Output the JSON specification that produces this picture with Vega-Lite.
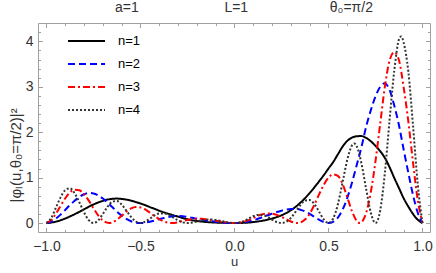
{
  "$schema": "https://vega.github.io/schema/vega-lite/v6.json",
  "width": 392,
  "height": 209,
  "autosize": {"type": "none"},
  "padding": {"left": 38, "top": 23, "right": 6, "bottom": 41},
  "background": "white",
  "title": {
    "text": "a=1\u00a0\u00a0\u00a0\u00a0\u00a0\u00a0\u00a0\u00a0\u00a0\u00a0\u00a0\u00a0\u00a0\u00a0\u00a0\u00a0\u00a0\u00a0\u00a0\u00a0\u00a0\u00a0L=1\u00a0\u00a0\u00a0\u00a0\u00a0\u00a0\u00a0\u00a0\u00a0\u00a0\u00a0\u00a0\u00a0\u00a0\u00a0\u00a0\u00a0\u00a0\u00a0\u00a0\u00a0θ₀=π/2",
    "anchor": "middle",
    "frame": "group",
    "font": "Liberation Sans",
    "fontSize": 14,
    "fontWeight": "normal",
    "color": "#333333",
    "offset": 8,
    "dx": 10
  },
  "data": {
    "values": [
      {"n":"n=1","u":-1,"v":0},{"n":"n=1","u":-0.975,"v":0.009},{"n":"n=1","u":-0.95,"v":0.031},{"n":"n=1","u":-0.925,"v":0.061},{"n":"n=1","u":-0.9,"v":0.099},{"n":"n=1","u":-0.875,"v":0.145},{"n":"n=1","u":-0.85,"v":0.194},{"n":"n=1","u":-0.825,"v":0.247},{"n":"n=1","u":-0.8,"v":0.302},{"n":"n=1","u":-0.775,"v":0.359},{"n":"n=1","u":-0.75,"v":0.408},{"n":"n=1","u":-0.725,"v":0.451},{"n":"n=1","u":-0.7,"v":0.488},{"n":"n=1","u":-0.675,"v":0.516},{"n":"n=1","u":-0.65,"v":0.532},{"n":"n=1","u":-0.625,"v":0.538},{"n":"n=1","u":-0.6,"v":0.529},{"n":"n=1","u":-0.575,"v":0.515},{"n":"n=1","u":-0.55,"v":0.493},{"n":"n=1","u":-0.525,"v":0.462},{"n":"n=1","u":-0.5,"v":0.43},{"n":"n=1","u":-0.475,"v":0.393},{"n":"n=1","u":-0.45,"v":0.351},{"n":"n=1","u":-0.425,"v":0.312},{"n":"n=1","u":-0.4,"v":0.271},{"n":"n=1","u":-0.375,"v":0.235},{"n":"n=1","u":-0.35,"v":0.202},{"n":"n=1","u":-0.325,"v":0.171},{"n":"n=1","u":-0.3,"v":0.141},{"n":"n=1","u":-0.275,"v":0.11},{"n":"n=1","u":-0.25,"v":0.083},{"n":"n=1","u":-0.225,"v":0.062},{"n":"n=1","u":-0.2,"v":0.045},{"n":"n=1","u":-0.175,"v":0.032},{"n":"n=1","u":-0.15,"v":0.022},{"n":"n=1","u":-0.125,"v":0.015},{"n":"n=1","u":-0.1,"v":0.009},{"n":"n=1","u":-0.075,"v":0.005},{"n":"n=1","u":-0.05,"v":0.003},{"n":"n=1","u":-0.025,"v":0.001},{"n":"n=1","u":0,"v":0},{"n":"n=1","u":0.025,"v":0.001},{"n":"n=1","u":0.05,"v":0.004},{"n":"n=1","u":0.075,"v":0.01},{"n":"n=1","u":0.1,"v":0.021},{"n":"n=1","u":0.125,"v":0.034},{"n":"n=1","u":0.15,"v":0.052},{"n":"n=1","u":0.175,"v":0.073},{"n":"n=1","u":0.2,"v":0.099},{"n":"n=1","u":0.225,"v":0.131},{"n":"n=1","u":0.25,"v":0.17},{"n":"n=1","u":0.275,"v":0.22},{"n":"n=1","u":0.3,"v":0.281},{"n":"n=1","u":0.325,"v":0.356},{"n":"n=1","u":0.35,"v":0.445},{"n":"n=1","u":0.375,"v":0.546},{"n":"n=1","u":0.4,"v":0.66},{"n":"n=1","u":0.425,"v":0.785},{"n":"n=1","u":0.45,"v":0.917},{"n":"n=1","u":0.475,"v":1.053},{"n":"n=1","u":0.5,"v":1.2},{"n":"n=1","u":0.525,"v":1.342},{"n":"n=1","u":0.55,"v":1.512},{"n":"n=1","u":0.575,"v":1.683},{"n":"n=1","u":0.6,"v":1.809},{"n":"n=1","u":0.625,"v":1.88},{"n":"n=1","u":0.65,"v":1.91},{"n":"n=1","u":0.675,"v":1.915},{"n":"n=1","u":0.7,"v":1.875},{"n":"n=1","u":0.725,"v":1.8},{"n":"n=1","u":0.75,"v":1.7},{"n":"n=1","u":0.775,"v":1.582},{"n":"n=1","u":0.8,"v":1.434},{"n":"n=1","u":0.825,"v":1.229},{"n":"n=1","u":0.85,"v":0.993},{"n":"n=1","u":0.875,"v":0.769},{"n":"n=1","u":0.9,"v":0.544},{"n":"n=1","u":0.925,"v":0.36},{"n":"n=1","u":0.95,"v":0.196},{"n":"n=1","u":0.975,"v":0.071},{"n":"n=1","u":1,"v":0},

      {"n":"n=2","u":-1,"v":0},{"n":"n=2","u":-0.975,"v":0.028},{"n":"n=2","u":-0.95,"v":0.096},{"n":"n=2","u":-0.925,"v":0.185},{"n":"n=2","u":-0.9,"v":0.288},{"n":"n=2","u":-0.875,"v":0.396},{"n":"n=2","u":-0.85,"v":0.492},{"n":"n=2","u":-0.825,"v":0.575},{"n":"n=2","u":-0.8,"v":0.633},{"n":"n=2","u":-0.775,"v":0.663},{"n":"n=2","u":-0.75,"v":0.652},{"n":"n=2","u":-0.725,"v":0.609},{"n":"n=2","u":-0.7,"v":0.539},{"n":"n=2","u":-0.675,"v":0.451},{"n":"n=2","u":-0.65,"v":0.351},{"n":"n=2","u":-0.625,"v":0.252},{"n":"n=2","u":-0.6,"v":0.162},{"n":"n=2","u":-0.575,"v":0.09},{"n":"n=2","u":-0.55,"v":0.039},{"n":"n=2","u":-0.525,"v":0.009},{"n":"n=2","u":-0.5,"v":0},{"n":"n=2","u":-0.475,"v":0.008},{"n":"n=2","u":-0.45,"v":0.028},{"n":"n=2","u":-0.425,"v":0.054},{"n":"n=2","u":-0.4,"v":0.083},{"n":"n=2","u":-0.375,"v":0.11},{"n":"n=2","u":-0.35,"v":0.134},{"n":"n=2","u":-0.325,"v":0.149},{"n":"n=2","u":-0.3,"v":0.156},{"n":"n=2","u":-0.275,"v":0.148},{"n":"n=2","u":-0.25,"v":0.132},{"n":"n=2","u":-0.225,"v":0.115},{"n":"n=2","u":-0.2,"v":0.094},{"n":"n=2","u":-0.175,"v":0.074},{"n":"n=2","u":-0.15,"v":0.055},{"n":"n=2","u":-0.125,"v":0.04},{"n":"n=2","u":-0.1,"v":0.026},{"n":"n=2","u":-0.075,"v":0.016},{"n":"n=2","u":-0.05,"v":0.008},{"n":"n=2","u":-0.025,"v":0.002},{"n":"n=2","u":0,"v":0},{"n":"n=2","u":0.025,"v":0.003},{"n":"n=2","u":0.05,"v":0.013},{"n":"n=2","u":0.075,"v":0.031},{"n":"n=2","u":0.1,"v":0.059},{"n":"n=2","u":0.125,"v":0.093},{"n":"n=2","u":0.15,"v":0.131},{"n":"n=2","u":0.175,"v":0.17},{"n":"n=2","u":0.2,"v":0.206},{"n":"n=2","u":0.225,"v":0.242},{"n":"n=2","u":0.25,"v":0.272},{"n":"n=2","u":0.275,"v":0.297},{"n":"n=2","u":0.3,"v":0.311},{"n":"n=2","u":0.325,"v":0.311},{"n":"n=2","u":0.35,"v":0.293},{"n":"n=2","u":0.375,"v":0.256},{"n":"n=2","u":0.4,"v":0.202},{"n":"n=2","u":0.425,"v":0.137},{"n":"n=2","u":0.45,"v":0.072},{"n":"n=2","u":0.475,"v":0.021},{"n":"n=2","u":0.5,"v":0},{"n":"n=2","u":0.525,"v":0.027},{"n":"n=2","u":0.55,"v":0.118},{"n":"n=2","u":0.575,"v":0.294},{"n":"n=2","u":0.6,"v":0.553},{"n":"n=2","u":0.625,"v":0.888},{"n":"n=2","u":0.65,"v":1.272},{"n":"n=2","u":0.675,"v":1.664},{"n":"n=2","u":0.7,"v":2.114},{"n":"n=2","u":0.725,"v":2.48},{"n":"n=2","u":0.75,"v":2.788},{"n":"n=2","u":0.775,"v":3.0},{"n":"n=2","u":0.8,"v":3.078},{"n":"n=2","u":0.825,"v":2.93},{"n":"n=2","u":0.85,"v":2.587},{"n":"n=2","u":0.875,"v":2.152},{"n":"n=2","u":0.9,"v":1.615},{"n":"n=2","u":0.925,"v":1.1},{"n":"n=2","u":0.95,"v":0.611},{"n":"n=2","u":0.975,"v":0.225},{"n":"n=2","u":1,"v":0},

      {"n":"n=3","u":-1,"v":0},{"n":"n=3","u":-0.975,"v":0.063},{"n":"n=3","u":-0.95,"v":0.206},{"n":"n=3","u":-0.925,"v":0.378},{"n":"n=3","u":-0.9,"v":0.545},{"n":"n=3","u":-0.875,"v":0.676},{"n":"n=3","u":-0.85,"v":0.734},{"n":"n=3","u":-0.825,"v":0.72},{"n":"n=3","u":-0.8,"v":0.633},{"n":"n=3","u":-0.775,"v":0.494},{"n":"n=3","u":-0.75,"v":0.326},{"n":"n=3","u":-0.725,"v":0.17},{"n":"n=3","u":-0.7,"v":0.057},{"n":"n=3","u":-0.6667,"v":0},{"n":"n=3","u":-0.65,"v":0.013},{"n":"n=3","u":-0.625,"v":0.074},{"n":"n=3","u":-0.6,"v":0.162},{"n":"n=3","u":-0.575,"v":0.252},{"n":"n=3","u":-0.55,"v":0.321},{"n":"n=3","u":-0.525,"v":0.352},{"n":"n=3","u":-0.5,"v":0.344},{"n":"n=3","u":-0.475,"v":0.299},{"n":"n=3","u":-0.45,"v":0.229},{"n":"n=3","u":-0.425,"v":0.153},{"n":"n=3","u":-0.4,"v":0.083},{"n":"n=3","u":-0.375,"v":0.032},{"n":"n=3","u":-0.35,"v":0.005},{"n":"n=3","u":-0.3333,"v":0},{"n":"n=3","u":-0.3,"v":0.016},{"n":"n=3","u":-0.275,"v":0.042},{"n":"n=3","u":-0.25,"v":0.066},{"n":"n=3","u":-0.225,"v":0.086},{"n":"n=3","u":-0.2,"v":0.094},{"n":"n=3","u":-0.175,"v":0.093},{"n":"n=3","u":-0.15,"v":0.082},{"n":"n=3","u":-0.125,"v":0.068},{"n":"n=3","u":-0.1,"v":0.05},{"n":"n=3","u":-0.075,"v":0.033},{"n":"n=3","u":-0.05,"v":0.017},{"n":"n=3","u":-0.025,"v":0.005},{"n":"n=3","u":0,"v":0},{"n":"n=3","u":0.025,"v":0.007},{"n":"n=3","u":0.05,"v":0.028},{"n":"n=3","u":0.075,"v":0.064},{"n":"n=3","u":0.1,"v":0.113},{"n":"n=3","u":0.125,"v":0.159},{"n":"n=3","u":0.15,"v":0.195},{"n":"n=3","u":0.175,"v":0.212},{"n":"n=3","u":0.2,"v":0.206},{"n":"n=3","u":0.225,"v":0.18},{"n":"n=3","u":0.25,"v":0.136},{"n":"n=3","u":0.275,"v":0.083},{"n":"n=3","u":0.3,"v":0.033},{"n":"n=3","u":0.3333,"v":0},{"n":"n=3","u":0.35,"v":0.011},{"n":"n=3","u":0.375,"v":0.075},{"n":"n=3","u":0.4,"v":0.205},{"n":"n=3","u":0.425,"v":0.4},{"n":"n=3","u":0.45,"v":0.63},{"n":"n=3","u":0.475,"v":0.84},{"n":"n=3","u":0.5,"v":1.0},{"n":"n=3","u":0.525,"v":1.07},{"n":"n=3","u":0.55,"v":1.04},{"n":"n=3","u":0.575,"v":0.86},{"n":"n=3","u":0.6,"v":0.57},{"n":"n=3","u":0.625,"v":0.26},{"n":"n=3","u":0.65,"v":0.048},{"n":"n=3","u":0.6667,"v":0},{"n":"n=3","u":0.7,"v":0.218},{"n":"n=3","u":0.725,"v":0.677},{"n":"n=3","u":0.75,"v":1.36},{"n":"n=3","u":0.775,"v":2.181},{"n":"n=3","u":0.8,"v":3.003},{"n":"n=3","u":0.825,"v":3.578},{"n":"n=3","u":0.85,"v":3.762},{"n":"n=3","u":0.875,"v":3.585},{"n":"n=3","u":0.9,"v":2.985},{"n":"n=3","u":0.925,"v":2.227},{"n":"n=3","u":0.95,"v":1.319},{"n":"n=3","u":0.975,"v":0.501},{"n":"n=3","u":1,"v":0},

      {"n":"n=4","u":-1,"v":0},{"n":"n=4","u":-0.975,"v":0.107},{"n":"n=4","u":-0.95,"v":0.333},{"n":"n=4","u":-0.925,"v":0.564},{"n":"n=4","u":-0.9,"v":0.724},{"n":"n=4","u":-0.875,"v":0.762},{"n":"n=4","u":-0.85,"v":0.655},{"n":"n=4","u":-0.825,"v":0.456},{"n":"n=4","u":-0.8,"v":0.233},{"n":"n=4","u":-0.775,"v":0.063},{"n":"n=4","u":-0.75,"v":0},{"n":"n=4","u":-0.725,"v":0.057},{"n":"n=4","u":-0.7,"v":0.198},{"n":"n=4","u":-0.675,"v":0.358},{"n":"n=4","u":-0.65,"v":0.467},{"n":"n=4","u":-0.625,"v":0.485},{"n":"n=4","u":-0.6,"v":0.407},{"n":"n=4","u":-0.575,"v":0.275},{"n":"n=4","u":-0.55,"v":0.134},{"n":"n=4","u":-0.525,"v":0.034},{"n":"n=4","u":-0.5,"v":0},{"n":"n=4","u":-0.475,"v":0.029},{"n":"n=4","u":-0.45,"v":0.096},{"n":"n=4","u":-0.425,"v":0.166},{"n":"n=4","u":-0.4,"v":0.209},{"n":"n=4","u":-0.375,"v":0.212},{"n":"n=4","u":-0.35,"v":0.178},{"n":"n=4","u":-0.325,"v":0.118},{"n":"n=4","u":-0.3,"v":0.057},{"n":"n=4","u":-0.275,"v":0.014},{"n":"n=4","u":-0.25,"v":0},{"n":"n=4","u":-0.225,"v":0.011},{"n":"n=4","u":-0.2,"v":0.035},{"n":"n=4","u":-0.175,"v":0.059},{"n":"n=4","u":-0.15,"v":0.073},{"n":"n=4","u":-0.125,"v":0.077},{"n":"n=4","u":-0.1,"v":0.066},{"n":"n=4","u":-0.075,"v":0.049},{"n":"n=4","u":-0.05,"v":0.027},{"n":"n=4","u":-0.025,"v":0.009},{"n":"n=4","u":0,"v":0},{"n":"n=4","u":0.025,"v":0.011},{"n":"n=4","u":0.05,"v":0.045},{"n":"n=4","u":0.075,"v":0.096},{"n":"n=4","u":0.1,"v":0.15},{"n":"n=4","u":0.125,"v":0.179},{"n":"n=4","u":0.15,"v":0.174},{"n":"n=4","u":0.175,"v":0.135},{"n":"n=4","u":0.2,"v":0.076},{"n":"n=4","u":0.225,"v":0.023},{"n":"n=4","u":0.25,"v":0},{"n":"n=4","u":0.275,"v":0.028},{"n":"n=4","u":0.3,"v":0.114},{"n":"n=4","u":0.325,"v":0.247},{"n":"n=4","u":0.35,"v":0.39},{"n":"n=4","u":0.375,"v":0.493},{"n":"n=4","u":0.4,"v":0.508},{"n":"n=4","u":0.425,"v":0.418},{"n":"n=4","u":0.45,"v":0.25},{"n":"n=4","u":0.475,"v":0.078},{"n":"n=4","u":0.5,"v":0},{"n":"n=4","u":0.525,"v":0.099},{"n":"n=4","u":0.55,"v":0.412},{"n":"n=4","u":0.575,"v":0.897},{"n":"n=4","u":0.6,"v":1.393},{"n":"n=4","u":0.625,"v":1.709},{"n":"n=4","u":0.6375,"v":1.75},{"n":"n=4","u":0.65,"v":1.692},{"n":"n=4","u":0.675,"v":1.32},{"n":"n=4","u":0.7,"v":0.758},{"n":"n=4","u":0.725,"v":0.228},{"n":"n=4","u":0.75,"v":0},{"n":"n=4","u":0.775,"v":0.276},{"n":"n=4","u":0.8,"v":1.104},{"n":"n=4","u":0.825,"v":2.268},{"n":"n=4","u":0.85,"v":3.357},{"n":"n=4","u":0.875,"v":4.043},{"n":"n=4","u":0.8875,"v":4.11},{"n":"n=4","u":0.9,"v":3.97},{"n":"n=4","u":0.925,"v":3.326},{"n":"n=4","u":0.95,"v":2.128},{"n":"n=4","u":0.975,"v":0.846},{"n":"n=4","u":1,"v":0}
    ]
  },
  "layer": [
    {
      "mark": {"type": "line", "strokeWidth": 2, "interpolate": "monotone"},
      "encoding": {
        "x": {
          "field": "u", "type": "quantitative",
          "scale": {"domain": [-1.045, 1.04], "nice": false, "zero": false},
          "axis": {"orient": "bottom", "values": [-1, -0.5, 0, 0.5, 1], "format": ".1f", "title": "u",
                   "tickSize": -4.5, "labelPadding": 12, "titlePadding": 2}
        },
        "y": {
          "field": "v", "type": "quantitative",
          "scale": {"domain": [-0.198, 4.405], "nice": false, "zero": false},
          "axis": {"orient": "left", "values": [0, 1, 2, 3, 4], "format": "d", "title": "|φₗ(u,θ₀=π/2)|²",
                   "tickSize": -4.5, "labelPadding": 9.5, "titleFontSize": 15,
                   "titleX": -23, "titleY": 179, "titleAngle": -90, "titleAlign": "left", "titleBaseline": "middle"}
        },
        "color": {
          "field": "n", "type": "nominal",
          "scale": {"domain": ["n=1", "n=2", "n=3", "n=4"], "range": ["#000000", "#0000ff", "#ff0000", "#333333"]},
          "legend": {"orient": "none", "legendX": 29, "legendY": 10, "title": null}
        },
        "strokeDash": {
          "field": "n", "type": "nominal",
          "scale": {"domain": ["n=1", "n=2", "n=3", "n=4"], "range": [[1, 0], [7, 4], [7, 3, 2, 3], [2, 2]]},
          "legend": {"orient": "none", "legendX": 29, "legendY": 10, "title": null}
        }
      }
    },
    {
      "mark": {"type": "point", "opacity": 0},
      "encoding": {
        "x": {"field": "u", "type": "quantitative",
              "axis": {"orient": "bottom", "values": [-0.9, -0.8, -0.7, -0.6, -0.4, -0.3, -0.2, -0.1, 0.1, 0.2, 0.3, 0.4, 0.6, 0.7, 0.8, 0.9], "labels": false, "title": null, "tickSize": -2.5}},
        "y": {"field": "v", "type": "quantitative",
              "axis": {"orient": "left", "values": [0.2, 0.4, 0.6, 0.8, 1.2, 1.4, 1.6, 1.8, 2.2, 2.4, 2.6, 2.8, 3.2, 3.4, 3.6, 3.8, 4.2], "labels": false, "title": null, "tickSize": -2.5}}
      }
    },
    {
      "mark": {"type": "point", "opacity": 0},
      "encoding": {
        "x": {"field": "u", "type": "quantitative",
              "axis": {"orient": "top", "values": [-1, -0.5, 0, 0.5, 1], "labels": false, "title": null, "tickSize": -4.5}},
        "y": {"field": "v", "type": "quantitative",
              "axis": {"orient": "right", "values": [0, 1, 2, 3, 4], "labels": false, "title": null, "tickSize": -4.5}}
      }
    },
    {
      "mark": {"type": "point", "opacity": 0},
      "encoding": {
        "x": {"field": "u", "type": "quantitative",
              "axis": {"orient": "top", "values": [-0.9, -0.8, -0.7, -0.6, -0.4, -0.3, -0.2, -0.1, 0.1, 0.2, 0.3, 0.4, 0.6, 0.7, 0.8, 0.9], "labels": false, "title": null, "tickSize": -2.5}},
        "y": {"field": "v", "type": "quantitative",
              "axis": {"orient": "right", "values": [0.2, 0.4, 0.6, 0.8, 1.2, 1.4, 1.6, 1.8, 2.2, 2.4, 2.6, 2.8, 3.2, 3.4, 3.6, 3.8, 4.2], "labels": false, "title": null, "tickSize": -2.5}}
      }
    }
  ],
  "resolve": {"axis": {"x": "independent", "y": "independent"}},
  "config": {
    "view": {"stroke": "#a0a0a0", "strokeWidth": 1},
    "axis": {
      "domain": false, "grid": false, "tickColor": "#a0a0a0", "tickWidth": 1,
      "labelFont": "Liberation Sans", "labelFontSize": 14, "labelColor": "#333333",
      "titleFont": "Liberation Sans", "titleFontSize": 13, "titleFontWeight": "normal", "titleColor": "#333333"
    },
    "legend": {
      "symbolType": "stroke", "symbolSize": 1369, "symbolStrokeWidth": 2,
      "labelFont": "Liberation Sans", "labelFontSize": 13, "labelColor": "#000000",
      "labelOffset": 12, "rowPadding": 7, "clipHeight": 16, "padding": 0
    }
  }
}
